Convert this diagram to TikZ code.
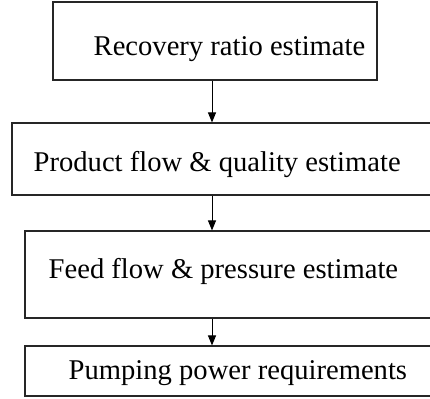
\documentclass[tikz,border=0pt]{standalone}
\usepackage{fontspec}
\setmainfont{Liberation Serif}
\usetikzlibrary{arrows.meta}
\begin{document}
\begin{tikzpicture}[x=1pt,y=-1pt,
  stagebox/.style={draw=black!85,line width=1.1pt,rectangle,inner sep=0pt,anchor=center},
  stagetext/.style={inner sep=0pt,anchor=base west,font=\fontsize{28.6}{32}\selectfont},
  flow/.style={draw=black,line width=1pt,-{Triangle[width=8pt,length=10pt]}}]
  \useasboundingbox (0,0) rectangle (430,398);
  \clip (0,0) rectangle (430,398);
  % boxes of the four stages
  \node[stagebox,minimum width=324pt,minimum height=78pt] (b1) at (215,41) {};
  \node[stagebox,minimum width=428pt,minimum height=72pt] (b2) at (226,159) {};
  \node[stagebox,minimum width=415pt,minimum height=87pt] (b3) at (232.5,274.5) {};
  \node[stagebox,minimum width=415pt,minimum height=50pt] (b4) at (232.5,371) {};
  % labels
  \node[stagetext] (t1) at (93.5,56) {Recovery ratio estimate};
  \node[stagetext] (t2) at (33.5,171) {Product flow \& quality estimate};
  \node[stagetext] (t3) at (48.5,278) {Feed flow \& pressure estimate};
  \node[stagetext] (t4) at (68.5,379) {Pumping power requirements};
  % connectors
  \coordinate (axis) at (212,0);
  \draw[flow] (b1.south -| axis) -- (b2.north -| axis);
  \draw[flow] (b2.south -| axis) -- (b3.north -| axis);
  \draw[flow] (b3.south -| axis) -- (b4.north -| axis);
\end{tikzpicture}
\end{document}
